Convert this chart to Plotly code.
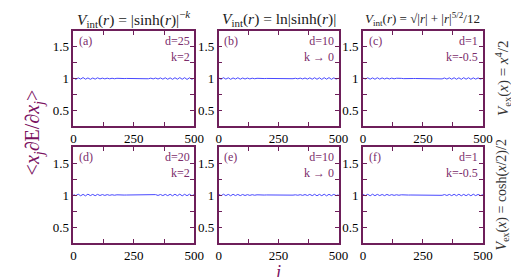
import plotly.graph_objects as go

# ---- data ----
j_vals = list(range(0, 501, 10))
# <x_j dE/dx_j> per panel (~1 with small fluctuations)
vals_a = [1.012, 0.986, 1.010, 0.991, 1.015, 0.989, 1.009, 0.987, 1.008, 0.990, 1.011, 0.993, 1.006, 0.994, 1.005, 0.995, 1.004, 0.996, 1.003, 0.998, 1.002, 0.999, 1.001, 1.000, 1.000, 1.000, 1.000, 1.000, 1.001, 0.999, 1.003, 0.996, 1.005, 0.994, 1.007, 0.992, 1.009, 0.990, 1.011, 0.988, 1.010, 0.987, 1.012, 0.989, 1.014, 0.988, 1.013, 0.985, 1.011, 0.988, 1.006]
vals_b = [1.010, 0.988, 1.013, 0.990, 1.011, 0.987, 1.009, 0.991, 1.012, 0.989, 1.008, 0.992, 1.007, 0.993, 1.005, 0.996, 1.003, 0.998, 1.002, 0.999, 1.001, 1.000, 1.000, 1.000, 1.000, 1.000, 1.000, 1.000, 1.000, 1.000, 1.002, 0.997, 1.004, 0.995, 1.006, 0.993, 1.008, 0.991, 1.010, 0.989, 1.012, 0.988, 1.011, 0.986, 1.013, 0.989, 1.014, 0.987, 1.010, 0.990, 1.005]
vals_c = [1.008, 0.991, 1.011, 0.989, 1.010, 0.988, 1.012, 0.990, 1.009, 0.992, 1.007, 0.993, 1.006, 0.995, 1.004, 0.997, 1.002, 0.998, 1.001, 0.999, 1.000, 1.000, 1.000, 1.000, 1.000, 1.000, 1.000, 1.000, 1.001, 0.999, 1.003, 0.996, 1.005, 0.994, 1.008, 0.991, 1.010, 0.989, 1.012, 0.988, 1.011, 0.987, 1.013, 0.989, 1.012, 0.988, 1.010, 0.990, 1.009, 0.991, 1.004]
vals_d = [1.009, 0.990, 1.012, 0.988, 1.010, 0.987, 1.013, 0.991, 1.009, 0.989, 1.010, 0.992, 1.007, 0.993, 1.006, 0.995, 1.004, 0.996, 1.003, 0.998, 1.001, 0.999, 1.000, 1.000, 1.000, 1.000, 1.000, 1.000, 1.001, 0.999, 1.002, 0.997, 1.004, 0.995, 1.006, 0.993, 1.008, 0.991, 1.010, 0.990, 1.011, 0.988, 1.012, 0.989, 1.013, 0.987, 1.011, 0.989, 1.012, 0.990, 1.006]
vals_e = [1.011, 0.989, 1.012, 0.990, 1.010, 0.988, 1.011, 0.991, 1.009, 0.990, 1.008, 0.992, 1.006, 0.994, 1.005, 0.996, 1.003, 0.998, 1.002, 0.999, 1.001, 1.000, 1.000, 1.000, 1.000, 1.000, 1.000, 1.000, 1.000, 1.000, 1.002, 0.998, 1.003, 0.996, 1.005, 0.994, 1.007, 0.992, 1.009, 0.990, 1.011, 0.988, 1.010, 0.989, 1.012, 0.987, 1.011, 0.990, 1.010, 0.991, 1.005]
vals_f = [1.009, 0.990, 1.011, 0.988, 1.012, 0.989, 1.010, 0.991, 1.008, 0.990, 1.009, 0.993, 1.006, 0.994, 1.004, 0.996, 1.003, 0.998, 1.001, 0.999, 1.000, 1.000, 1.000, 1.000, 1.000, 1.000, 1.000, 1.000, 1.001, 0.999, 1.003, 0.997, 1.005, 0.995, 1.007, 0.992, 1.009, 0.990, 1.011, 0.989, 1.012, 0.988, 1.010, 0.989, 1.011, 0.988, 1.012, 0.990, 1.009, 0.991, 1.005]
panel_vals = [vals_a, vals_b, vals_c, vals_d, vals_e, vals_f]
panel_tags = ["(a)", "(b)", "(c)", "(d)", "(e)", "(f)"]
panel_d = ["d=25", "d=10", "d=1", "d=20", "d=10", "d=1"]
panel_k = ["k=2", "k → 0", "k=-0.5", "k=2", "k → 0", "k=-0.5"]
col_titles = [
    "<i>V</i><sub>int</sub>(<i>r</i>) = |sinh(<i>r</i>)|<sup>−<i>k</i></sup>",
    "<i>V</i><sub>int</sub>(<i>r</i>) = ln|sinh(<i>r</i>)|",
    "<i>V</i><sub>int</sub>(<i>r</i>) = √|<i>r</i>| + |<i>r</i>|<sup>5/2</sup>/12",
]
row_titles = [
    "<i>V</i><sub>ex</sub>(<i>x</i>) = <i>x</i><sup>4</sup>/2",
    "<i>V</i><sub>ex</sub>(<i>x</i>) = cosh(<i>x</i>/2)/2",
]
x_ticks = [0, 125, 250, 375, 500]
x_ticktext = ["0", " ", "250", " ", "500"]
y_ticks = [0.5, 0.75, 1.0, 1.25, 1.5]
y_ticktext = ["0.5", " ", "1", " ", "1.5"]

# ---- layout geometry ----
W, H = 519, 277
FRAME = "#6e1f5a"
LABEL = "#7b2d6b"
FONT = "Liberation Serif, serif"
xdoms = [(64, 188), (213, 336), (361, 484)]
ydoms = [(23, 118), (139, 235)]

fig = go.Figure()
layout = dict(
    width=W, height=H, margin=dict(l=0, r=0, t=0, b=0),
    paper_bgcolor="white", plot_bgcolor="white", showlegend=False,
    font=dict(family=FONT, size=12, color="black"),
)
annotations = []
for idx in range(6):
    r, c = divmod(idx, 3)
    n = idx + 1
    xa = "xaxis" if n == 1 else f"xaxis{n}"
    ya = "yaxis" if n == 1 else f"yaxis{n}"
    xr = "x" if n == 1 else f"x{n}"
    yr = "y" if n == 1 else f"y{n}"
    x0, x1 = xdoms[c]
    y0, y1 = ydoms[r]
    layout[xa] = dict(
        domain=[x0 / W, x1 / W], anchor=yr, range=[0, 500],
        tickvals=x_ticks, ticktext=x_ticktext, ticks="inside", ticklen=4,
        tickcolor=FRAME, tickwidth=1.2, mirror="allticks", showline=True,
        linecolor=FRAME, linewidth=1.6, showgrid=False, zeroline=False,
        tickfont=dict(family=FONT, size=13, color="black"),
    )
    layout[ya] = dict(
        domain=[1 - y1 / H, 1 - y0 / H], anchor=xr, range=[0.25, 1.75],
        tickvals=y_ticks, ticktext=y_ticktext, ticks="inside", ticklen=4,
        tickcolor=FRAME, tickwidth=1.2, mirror="allticks", showline=True,
        linecolor=FRAME, linewidth=1.6, showgrid=False, zeroline=False,
        tickfont=dict(family=FONT, size=13, color="black"),
    )
    fig.add_trace(go.Scatter(
        x=j_vals, y=panel_vals[idx], mode="lines", xaxis=xr, yaxis=yr,
        line=dict(color="#4848ff", width=1), hoverinfo="skip",
    ))
    annotations.append(dict(
        text=panel_tags[idx], xref=f"{xr} domain", yref=f"{yr} domain",
        x=0.03, y=0.99, xanchor="left", yanchor="top", showarrow=False,
        font=dict(family=FONT, size=12, color=LABEL),
    ))
    annotations.append(dict(
        text=panel_d[idx] + "<br>" + panel_k[idx], xref=f"{xr} domain", yref=f"{yr} domain",
        x=0.98, y=0.99, xanchor="right", yanchor="top", showarrow=False, align="right",
        font=dict(family=FONT, size=12, color=LABEL),
    ))

title_sizes = [15.5, 15.5, 13]
for c in range(3):
    x0, x1 = xdoms[c]
    annotations.append(dict(
        text=col_titles[c], xref="paper", yref="paper",
        x=(x0 + x1) / 2 / W, y=1 - 11 / H, xanchor="center", yanchor="middle",
        showarrow=False, font=dict(family=FONT, size=title_sizes[c], color="#222222"),
    ))
row_sizes = [15, 14]
for r in range(2):
    y0, y1 = ydoms[r]
    annotations.append(dict(
        text=row_titles[r], xref="paper", yref="paper",
        x=504 / W, y=1 - (y0 + y1) / 2 / H, xanchor="center", yanchor="middle",
        textangle=-90, showarrow=False, font=dict(family=FONT, size=row_sizes[r], color="#333333"),
    ))
annotations.append(dict(
    text="<<i>x<sub>j</sub></i>∂E/∂<i>x<sub>j</sub></i>>", xref="paper", yref="paper",
    x=24 / W, y=1 - 124 / H, xanchor="center", yanchor="middle", textangle=-90,
    showarrow=False, font=dict(family=FONT, size=20, color="#7a1060"),
))
annotations.append(dict(
    text="<i>j</i>", xref="paper", yref="paper",
    x=273 / W, y=1 - 264 / H, xanchor="center", yanchor="middle",
    showarrow=False, font=dict(family=FONT, size=18, color="#7a1060"),
))
layout["annotations"] = annotations
fig.update_layout(**layout)
fig.write_html("out.html")
